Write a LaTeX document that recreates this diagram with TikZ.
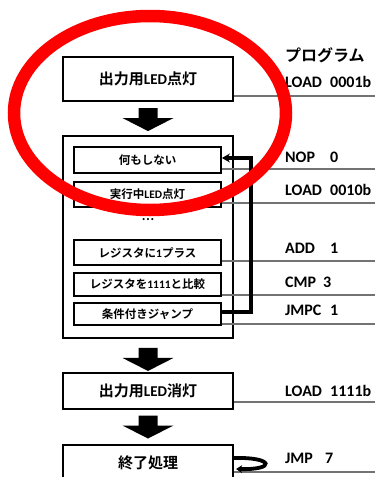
\documentclass[tikz,border=0pt]{standalone}
\usepackage{fontspec}
\setmainfont{Carlito}
\newfontfamily\jp[BoldFont={Noto Sans CJK JP Bold}]{Noto Sans CJK JP}
\usetikzlibrary{calc,arrows.meta}
\begin{document}
\begin{tikzpicture}[x=1pt,y=-1pt,
  box/.style={draw, line width=2.2pt, fill=white, minimum width=170, inner sep=0, font=\fontsize{15}{17}\selectfont\bfseries},
  bigbox/.style={draw, line width=2pt, minimum width=170, inner sep=0},
  ibox/.style={draw, line width=1.8pt, fill=white, minimum width=147, inner sep=0, font=\fontsize{11.5}{13}\selectfont\bfseries},
  lbl/.style={anchor=west, inner sep=0, font=\fontsize{16}{18}\selectfont\bfseries},
  gline/.style={draw=black!55, line width=1.4pt},
  loopline/.style={line width=3.5pt, -{Stealth[length=8pt,width=9pt]}},
  redring/.style={draw=red, line width=12.5pt},
  fatarrow/.style={fill=black}]
\clip (0,0) rectangle (375,477);
\coordinate (R) at (375,0);
% boxes
\node[box, minimum height=44] (b1) at (148,79) {{\jp 出力用}LED{\jp 点灯}};
\node[bigbox, minimum height=202] (big) at (148,237) {};
\node[ibox, minimum height=26] (n1) at (147.5,160) {{\jp 何もしない}};
\node[ibox, minimum height=25] (n2) at (147.5,194.5) {{\jp 実行中}LED{\jp 点灯}};
\node[inner sep=0, font=\fontsize{11.5}{13}\selectfont\bfseries] (dots) at (148,220) {{\jp …}};
\node[ibox, minimum height=25] (n3) at (147.5,252.5) {{\jp レジスタに}1{\jp プラス}};
\node[ibox, minimum height=23] (n4) at (147.5,284.5) {{\jp レジスタを}1111{\jp と比較}};
\node[ibox, minimum height=22] (n5) at (147.5,314) {{\jp 条件付きジャンプ}};
\node[box, minimum height=36] (b2) at (148,391) {{\jp 出力用}LED{\jp 消灯}};
\node[box, minimum height=36] (b3) at (148,463) {{\jp 終了処理}};
% gray lines
\draw[gline] ([yshift=6pt]b1.south east) coordinate (g0) -- (g0 -| R);
\draw[gline] ([yshift=5pt]n1.south east) coordinate (g1) -- (g1 -| R);
\draw[gline] ([yshift=5pt]n2.south east) coordinate (g2) -- (g2 -| R);
\draw[gline] ([yshift=5pt]n3.south east) coordinate (g3) -- (g3 -| R);
\draw[gline] ([yshift=2pt]n4.south east) coordinate (g4) -- (g4 -| R);
\draw[gline] ([yshift=2pt]n5.south east) coordinate (g5) -- (g5 -| R);
\draw[gline] ([yshift=8pt]b2.south east) coordinate (g6) -- (g6 -| R);
\draw[gline] ([yshift=-9pt]b3.east) coordinate (g7) -- (g7 -| R);
% fat arrows
\coordinate (a1) at ($(b1.south)!0.5!(big.north)+(0,1)$);
\coordinate (a2) at ($(big.south)!0.5!(b2.north)+(0,4)$);
\coordinate (a3) at ($(b2.south)!0.5!(b3.north)$);
\foreach \a in {a1,a2,a3}
  \fill[fatarrow] (\a) +(-9.5,-11.5) -- +(9.5,-11.5) -- +(9.5,-1.5) -- +(25.5,-1.5)
     -- +(0,11.5) -- +(-25.5,-1.5) -- +(-9.5,-1.5) -- cycle;
% loop arrows
\draw[loopline] ([yshift=2pt]n5.east) -- ++(29,0) |- ([yshift=2pt]n1.east);
\draw[line width=3.8pt, -{Stealth[length=6pt,width=8pt]}] ([yshift=5pt]b3.east)
  .. controls +(40,-1) and +(40,1) .. ([yshift=-6pt,xshift=2pt]b3.east);
% labels
\node[lbl] (pg) at (285,55) {{\jp プログラム}};
\node[lbl] (l0) at (285,82) {\makebox[45pt][l]{LOAD}0001b};
\node[lbl] (l1) at (285,157) {\makebox[45pt][l]{NOP}0};
\node[lbl] (l2) at (285,190) {\makebox[45pt][l]{LOAD}0010b};
\node[lbl] (l3) at (285,248) {\makebox[45pt][l]{ADD}1};
\node[lbl] (l4) at (285,282) {\makebox[38pt][l]{CMP}3};
\node[lbl] (l5) at (285,310) {\makebox[45pt][l]{JMPC}1};
\node[lbl] (l6) at (285,391) {\makebox[45pt][l]{LOAD}1111b};
\node[lbl] (l7) at (285,458) {\makebox[40pt][l]{JMP}7};
% red ring
\draw[redring] (150,113) ellipse [x radius=136, y radius=97];
\end{tikzpicture}
\end{document}
